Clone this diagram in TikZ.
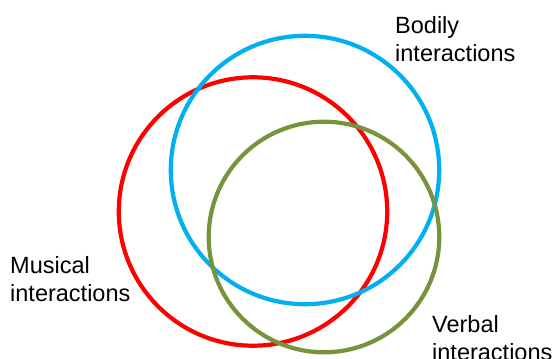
\documentclass[tikz,border=0pt]{standalone}
\usepackage{fontspec}
\setmainfont{Liberation Sans}
\definecolor{musicalred}{HTML}{FF0000}
\definecolor{bodilyblue}{HTML}{00B0F0}
\definecolor{verbalgreen}{HTML}{77933C}
\begin{document}
\begin{tikzpicture}[x=1pt,y=-1pt,
  ring/.style={line width=4.2pt},
  caption/.style={align=left, inner sep=0pt, anchor=base west,
    font=\fontsize{23.5}{28.3}\selectfont}]
\useasboundingbox (0,0) rectangle (553,358);
\clip (0,0) rectangle (553,358);
% the three overlapping circles
\draw[ring, musicalred] (253,211.5) circle[radius=134.2] node (musical) {};
\draw[ring, bodilyblue] (305,170) circle[radius=134.2] node (bodily) {};
\draw[ring, verbalgreen] (324,237) circle[radius=115.3] node (verbal) {};
% captions (anchored at the baseline of the second line)
\node[caption] (tbodily) at (395,61.6) {Bodily\\interactions};
\node[caption] (tmusical) at (10,301.6) {Musical\\interactions};
\node[caption] (tverbal) at (432,360.3) {Verbal\\interactions};
\end{tikzpicture}
\end{document}
